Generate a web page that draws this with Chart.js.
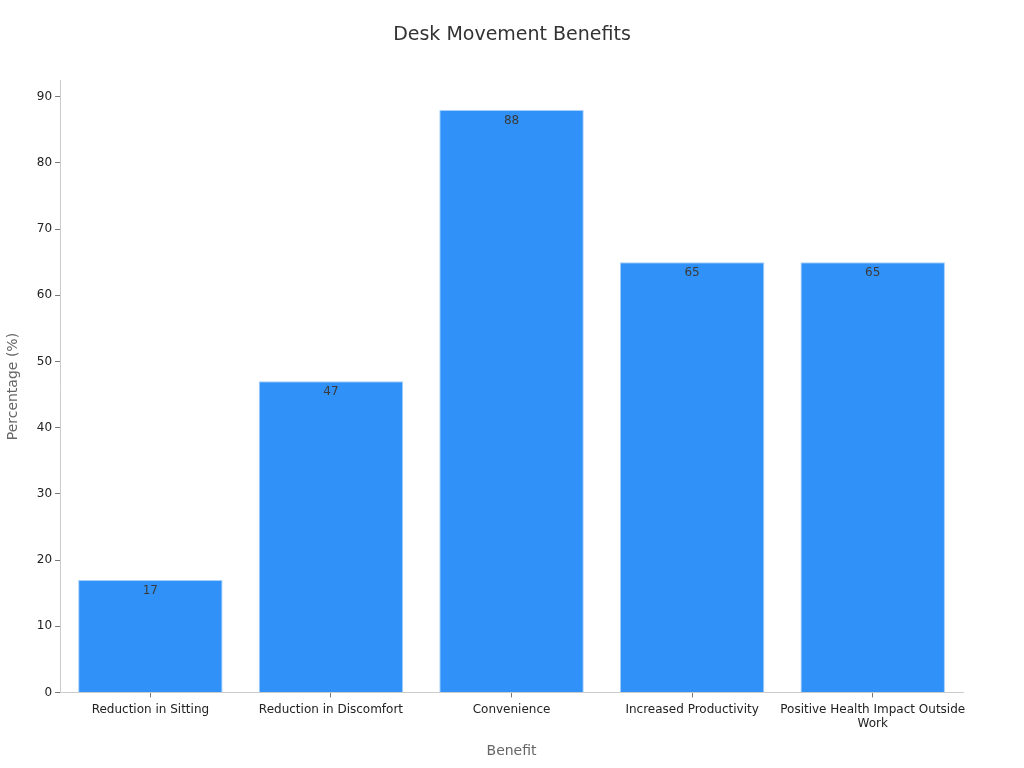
<!DOCTYPE html>
<html lang="en">
<head>
<meta charset="UTF-8">
<title>Desk Movement Benefits</title>
<script src="https://cdn.jsdelivr.net/npm/chart.js"></script>
<style>
    html, body { margin: 0; padding: 0; background: #fff; }
    #wrap { width: 1024px; height: 768px; }
</style>
</head>
<body>
<div id="wrap"><canvas id="benefitChart" width="1024" height="768"></canvas></div>
<script>
var benefitLabels = [
    'Reduction in Sitting',
    'Reduction in Discomfort',
    'Convenience',
    'Increased Productivity',
    ['Positive Health Impact Outside', 'Work']
];
var benefitValues = [17, 47, 88, 65, 65];
var yTickStep = 10;

Chart.defaults.font.family = '"DejaVu Sans", sans-serif';
Chart.defaults.color = '#333';

// draws the value just under the top of each bar
var barValueLabels = {
    id: 'barValueLabels',
    afterDatasetsDraw: function (chart) {
        var ctx = chart.ctx;
        var meta = chart.getDatasetMeta(0);
        ctx.save();
        ctx.font = '12px "DejaVu Sans", sans-serif';
        ctx.fillStyle = '#3a3a3a';
        ctx.textAlign = 'center';
        ctx.textBaseline = 'top';
        meta.data.forEach(function (bar, i) {
            ctx.fillText(String(benefitValues[i]), bar.x, bar.y + 5);
        });
        ctx.restore();
    }
};

var ctx = document.getElementById('benefitChart').getContext('2d');
var benefitChart = new Chart(ctx, {
    type: 'bar',
    data: {
        labels: benefitLabels,
        datasets: [{
            data: benefitValues,
            backgroundColor: '#3092f8',
            borderColor: '#a5cffb',
            borderWidth: 1,
            barPercentage: 0.8,
            categoryPercentage: 1.0
        }]
    },
    options: {
        responsive: false,
        animation: false,
        layout: { padding: { left: 0, right: 0, top: 10, bottom: 4 } },
        plugins: {
            legend: { display: false },
            tooltip: { enabled: false },
            title: {
                display: true,
                text: 'Desk Movement Benefits',
                color: '#333',
                font: { size: 19, weight: 'normal' },
                padding: { top: 14, bottom: 34 }
            }
        },
        scales: {
            x: {
                grid: { display: true, offset: false, drawOnChartArea: false, drawTicks: true, tickLength: 5, color: '#777' },
                border: { display: true, color: '#ccc' },
                ticks: { color: '#222', font: { size: 12 }, padding: 5, maxRotation: 0, autoSkip: false },
                title: {
                    display: true,
                    text: 'Benefit',
                    color: '#666',
                    font: { size: 14 },
                    padding: { top: 7 }
                }
            },
            y: {
                min: 0,
                max: 92.4,
                grid: { display: true, drawOnChartArea: false, drawTicks: true, tickLength: 5, color: '#777' },
                border: { display: true, color: '#ccc' },
                afterBuildTicks: function (scale) {
                    scale.ticks = scale.ticks.filter(function (t) { return t.value % yTickStep === 0; });
                },
                ticks: {
                    stepSize: yTickStep,
                    color: '#222',
                    font: { size: 12 }
                },
                title: {
                    display: true,
                    text: 'Percentage (%)',
                    color: '#666',
                    font: { size: 14 },
                    padding: { top: 5, bottom: 12 }
                }
            },
            // empty spacer on the right so the title stays centred on the page
            spacer: {
                type: 'linear',
                position: 'right',
                display: true,
                grid: { display: false },
                border: { display: false },
                ticks: { display: false },
                afterFit: function (scale) { scale.width = 61; }
            }
        }
    },
    plugins: [barValueLabels]
});
</script>
</body>
</html>
